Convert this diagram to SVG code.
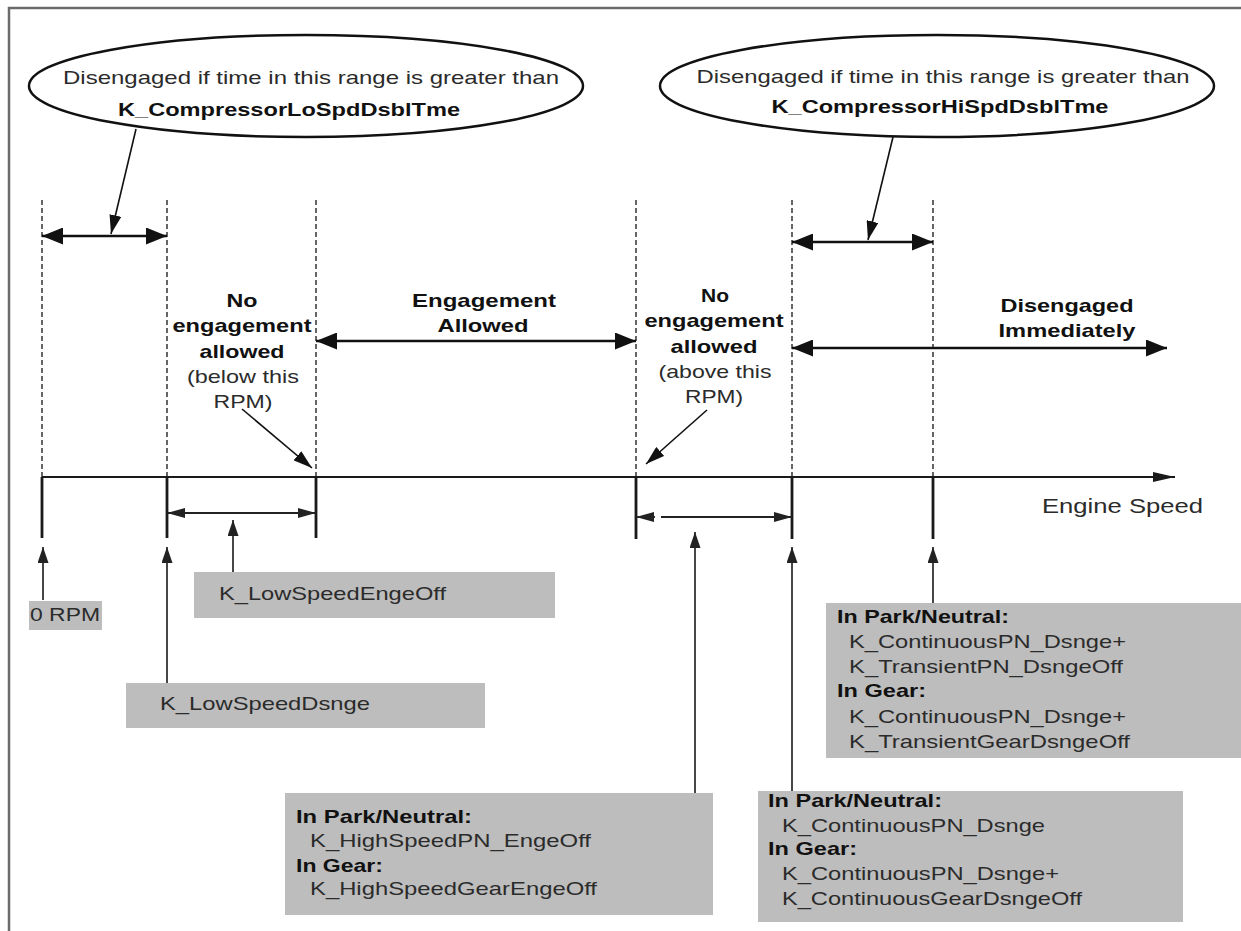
<svg xmlns="http://www.w3.org/2000/svg" width="1241" height="931" viewBox="0 0 1241 931">
  <defs>
    <style>
      text { font-family: "Liberation Sans", Arial, Helvetica, sans-serif; font-size: 19px; fill: #2b2b2b; }
      .b { font-weight: bold; fill: #111; }
      .c { text-anchor: middle; }
      .box { fill: #bdbdbd; }
      .oval { fill: #fff; stroke: #111; stroke-width: 2.5; }
      .dash { stroke: #333; stroke-width: 1.5; stroke-dasharray: 5 3; fill: none; }
      .tick { stroke: #1a1a1a; stroke-width: 2.8; fill: none; }
      .span { stroke: #111; stroke-width: 2.5; fill: none; marker-start: url(#bigHead); marker-end: url(#bigHead); }
      .dim { stroke: #222; stroke-width: 1.8; fill: none; }
      .up { stroke: #333; stroke-width: 1.8; fill: none; marker-end: url(#upHead); }
      .ptr { stroke: #111; stroke-width: 1.6; fill: none; marker-end: url(#ptrHead); }
    </style>
    <marker id="bigHead" viewBox="0 0 21 17" refX="21" refY="8.5" markerWidth="21" markerHeight="17" markerUnits="userSpaceOnUse" orient="auto-start-reverse">
      <path d="M0,0 L21,8.5 L0,17 Z" fill="#111"/>
    </marker>
    <marker id="smallHead" viewBox="0 0 18 10" refX="18" refY="5" markerWidth="18" markerHeight="10" markerUnits="userSpaceOnUse" orient="auto-start-reverse">
      <path d="M0,0 L18,5 L0,10 Z" fill="#222"/>
    </marker>
    <marker id="upHead" viewBox="0 0 16 11" refX="16" refY="5.5" markerWidth="16" markerHeight="11" markerUnits="userSpaceOnUse" orient="auto">
      <path d="M0,0 L16,5.5 L0,11 Z" fill="#222"/>
    </marker>
    <marker id="ptrHead" viewBox="0 0 19 12" refX="19" refY="6" markerWidth="19" markerHeight="12" markerUnits="userSpaceOnUse" orient="auto">
      <path d="M0,0 L19,6 L0,12 Z" fill="#111"/>
    </marker>
    <marker id="axisHead" viewBox="0 0 22 10" refX="22" refY="5" markerWidth="22" markerHeight="10" markerUnits="userSpaceOnUse" orient="auto">
      <path d="M0,0 L22,5 L0,10 Z" fill="#1a1a1a"/>
    </marker>
  </defs>

  <rect width="1241" height="931" fill="#fff"/>

  <!-- page frame: top and left edges only -->
  <path id="frame" d="M9,931 V8 H1241" fill="none" stroke="#6b6b6b" stroke-width="2.5"/>

  <!-- callout ovals -->
  <g id="oval-lo">
    <ellipse class="oval" cx="306" cy="86" rx="277" ry="51"/>
    <text class="c" x="311" y="84" textLength="496" lengthAdjust="spacingAndGlyphs">Disengaged if time in this range is greater than</text>
    <text class="b c" x="289" y="116" textLength="342" lengthAdjust="spacingAndGlyphs">K_CompressorLoSpdDsblTme</text>
  </g>
  <g id="oval-hi">
    <ellipse class="oval" cx="937" cy="86" rx="277" ry="51"/>
    <text class="c" x="943" y="83" textLength="493" lengthAdjust="spacingAndGlyphs">Disengaged if time in this range is greater than</text>
    <text class="b c" x="940" y="113" textLength="337" lengthAdjust="spacingAndGlyphs">K_CompressorHiSpdDsblTme</text>
  </g>

  <!-- zone labels -->
  <g id="zone-low">
    <text class="b c" x="242" y="307" textLength="31" lengthAdjust="spacingAndGlyphs">No</text>
    <text class="b c" x="242" y="332" textLength="139" lengthAdjust="spacingAndGlyphs">engagement</text>
    <text class="b c" x="242" y="358" textLength="85" lengthAdjust="spacingAndGlyphs">allowed</text>
    <text class="c" x="243" y="383" textLength="112" lengthAdjust="spacingAndGlyphs">(below this</text>
    <text class="c" x="243" y="408" textLength="59" lengthAdjust="spacingAndGlyphs">RPM)</text>
  </g>
  <g id="zone-allowed">
    <text class="b c" x="484" y="307" textLength="144" lengthAdjust="spacingAndGlyphs">Engagement</text>
    <text class="b c" x="483" y="332" textLength="91" lengthAdjust="spacingAndGlyphs">Allowed</text>
  </g>
  <g id="zone-high">
    <text class="b c" x="715" y="302" textLength="28" lengthAdjust="spacingAndGlyphs">No</text>
    <text class="b c" x="714" y="327" textLength="139" lengthAdjust="spacingAndGlyphs">engagement</text>
    <text class="b c" x="714" y="353" textLength="87" lengthAdjust="spacingAndGlyphs">allowed</text>
    <text class="c" x="715" y="378" textLength="113" lengthAdjust="spacingAndGlyphs">(above this</text>
    <text class="c" x="714" y="403" textLength="58" lengthAdjust="spacingAndGlyphs">RPM)</text>
  </g>
  <g id="zone-immediate">
    <text class="b c" x="1067" y="312" textLength="133" lengthAdjust="spacingAndGlyphs">Disengaged</text>
    <text class="b c" x="1067" y="337" textLength="137" lengthAdjust="spacingAndGlyphs">Immediately</text>
  </g>
  <g id="axis-label">
    <text x="1042" y="513" style="font-size:21px" textLength="161" lengthAdjust="spacingAndGlyphs">Engine Speed</text>
  </g>

  <!-- calibration boxes -->
  <g id="box-zero">
    <rect class="box" x="29" y="601" width="73" height="29"/>
    <text x="30" y="621" textLength="70" lengthAdjust="spacingAndGlyphs">0 RPM</text>
  </g>
  <g id="box-low-enge">
    <rect class="box" x="194" y="572" width="361" height="46"/>
    <text x="219" y="600" textLength="227" lengthAdjust="spacingAndGlyphs">K_LowSpeedEngeOff</text>
  </g>
  <g id="box-low-dsnge">
    <rect class="box" x="126" y="683" width="359" height="45"/>
    <text x="160" y="710" textLength="210" lengthAdjust="spacingAndGlyphs">K_LowSpeedDsnge</text>
  </g>
  <g id="box-high-enge">
    <rect class="box" x="285" y="793" width="428" height="122"/>
    <text class="b" x="296" y="823" textLength="176" lengthAdjust="spacingAndGlyphs">In Park/Neutral:</text>
    <text x="310" y="847" textLength="281" lengthAdjust="spacingAndGlyphs">K_HighSpeedPN_EngeOff</text>
    <text class="b" x="296" y="872" textLength="87" lengthAdjust="spacingAndGlyphs">In Gear:</text>
    <text x="310" y="895" textLength="287" lengthAdjust="spacingAndGlyphs">K_HighSpeedGearEngeOff</text>
  </g>
  <g id="box-transient">
    <rect class="box" x="826" y="603" width="415" height="155"/>
    <text class="b" x="837" y="623" textLength="172" lengthAdjust="spacingAndGlyphs">In Park/Neutral:</text>
    <text x="849" y="648" textLength="277" lengthAdjust="spacingAndGlyphs">K_ContinuousPN_Dsnge+</text>
    <text x="849" y="673" textLength="274" lengthAdjust="spacingAndGlyphs">K_TransientPN_DsngeOff</text>
    <text class="b" x="837" y="697" textLength="89" lengthAdjust="spacingAndGlyphs">In Gear:</text>
    <text x="849" y="723" textLength="277" lengthAdjust="spacingAndGlyphs">K_ContinuousPN_Dsnge+</text>
    <text x="849" y="748" textLength="281" lengthAdjust="spacingAndGlyphs">K_TransientGearDsngeOff</text>
  </g>
  <g id="box-continuous">
    <rect class="box" x="758" y="791" width="425" height="131"/>
    <text class="b" x="768" y="807" textLength="174" lengthAdjust="spacingAndGlyphs">In Park/Neutral:</text>
    <text x="782" y="832" textLength="263" lengthAdjust="spacingAndGlyphs">K_ContinuousPN_Dsnge</text>
    <text class="b" x="768" y="855" textLength="89" lengthAdjust="spacingAndGlyphs">In Gear:</text>
    <text x="782" y="880" textLength="277" lengthAdjust="spacingAndGlyphs">K_ContinuousPN_Dsnge+</text>
    <text x="782" y="905" textLength="300" lengthAdjust="spacingAndGlyphs">K_ContinuousGearDsngeOff</text>
  </g>

  <!-- lines, ticks and arrows -->
  <g id="connectors">
    <!-- dashed speed thresholds -->
    <path class="dash" d="M42,200 V477 M167,200 V477 M316,200 V477 M636,200 V477 M792,200 V477 M933,200 V477"/>
    <!-- engine speed axis -->
    <path d="M42,477 H1175" stroke="#1a1a1a" stroke-width="2.2" fill="none" marker-end="url(#axisHead)"/>
    <!-- threshold ticks below the axis -->
    <path class="tick" d="M42,477 V538 M167,477 V538 M316,477 V538 M636,477 V539 M792,477 V539 M933,477 V539"/>

    <!-- range spans -->
    <path class="span" d="M42,236 H167"/>
    <path class="span" d="M792,242 H933"/>
    <path class="span" d="M316,341 H636"/>
    <path class="span" d="M792,348 H1167"/>

    <!-- hysteresis widths under the axis -->
    <path class="dim" d="M167,513 H316" marker-start="url(#smallHead)" marker-end="url(#smallHead)"/>
    <path class="dim" d="M655,517 H636" marker-end="url(#smallHead)"/>
    <path class="dim" d="M661,517 H792" marker-end="url(#smallHead)"/>

    <!-- callout pointers -->
    <path class="ptr" d="M136,129 L111,234"/>
    <path class="ptr" d="M893,137 L868,240"/>
    <path class="ptr" d="M242,409 L312,468"/>
    <path class="ptr" d="M707,410 L646,464"/>

    <!-- calibration pointers -->
    <path class="up" d="M43,600 V547"/>
    <path class="up" d="M167,683 V547"/>
    <path class="up" d="M233,572 V520"/>
    <path class="up" d="M695,793 V532"/>
    <path class="up" d="M792,791 V547"/>
    <path class="up" d="M933,603 V547"/>
  </g>
</svg>
